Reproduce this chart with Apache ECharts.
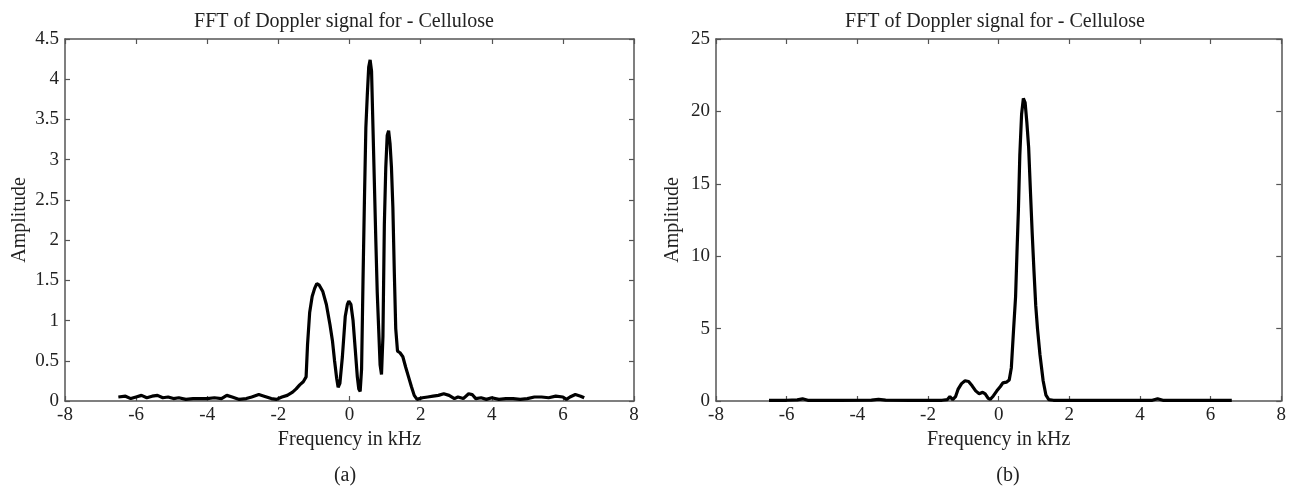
<!DOCTYPE html>
<html>
<head>
<meta charset="utf-8">
<script src="https://cdn.jsdelivr.net/npm/echarts@6/dist/echarts.min.js"></script>
<style>
  html, body { margin: 0; padding: 0; background: #fff; }
  #chart { width: 1289px; height: 488px; }
</style>
</head>
<body>
<div id="chart"></div>
<script>
// (a) amplitude spectrum
const freqA = [-6.5, -6.3, -6.15, -6.0, -5.85, -5.7, -5.55, -5.4, -5.25, -5.1, -4.95, -4.8, -4.6, -4.4, -4.2, -4.0,
  -3.8, -3.6, -3.45, -3.3, -3.1, -2.9, -2.75, -2.55, -2.4, -2.2, -2.05, -1.9, -1.75, -1.6, -1.5, -1.4, -1.3,
  -1.22, -1.18, -1.12, -1.05, -0.98, -0.92, -0.85, -0.75, -0.65, -0.55, -0.48, -0.42, -0.36, -0.32, -0.27,
  -0.2, -0.12, -0.06, -0.02, 0.04, 0.1, 0.16, 0.22, 0.26, 0.3, 0.34, 0.38, 0.42, 0.46, 0.5, 0.54, 0.58, 0.62,
  0.66, 0.7, 0.74, 0.78, 0.82, 0.86, 0.9, 0.94, 0.98, 1.02, 1.06, 1.1, 1.14, 1.18, 1.22, 1.26, 1.3, 1.35,
  1.42, 1.5, 1.58, 1.66, 1.74, 1.82, 1.9, 2.05, 2.2, 2.35, 2.5, 2.65, 2.8, 2.95, 3.05, 3.2, 3.35, 3.45, 3.55,
  3.7, 3.85, 4.0, 4.2, 4.4, 4.6, 4.8, 5.0, 5.2, 5.4, 5.6, 5.8, 6.0, 6.1, 6.2, 6.35, 6.5, 6.6];
const ampA = [0.05, 0.06, 0.03, 0.05, 0.07, 0.04, 0.06, 0.07, 0.04, 0.05, 0.03, 0.04, 0.02, 0.03, 0.03, 0.03,
  0.04, 0.03, 0.07, 0.05, 0.02, 0.03, 0.05, 0.08, 0.06, 0.03, 0.02, 0.05, 0.07, 0.11, 0.15, 0.2, 0.24,
  0.3, 0.7, 1.1, 1.3, 1.4, 1.46, 1.44, 1.36, 1.2, 0.95, 0.75, 0.5, 0.28, 0.17, 0.22,
  0.55, 1.05, 1.2, 1.24, 1.2, 1.0, 0.65, 0.3, 0.15, 0.12, 0.4, 1.5, 2.5, 3.4, 3.8, 4.15, 4.24, 4.1,
  3.4, 2.7, 2.0, 1.35, 0.9, 0.45, 0.33, 0.8, 2.2, 2.9, 3.3, 3.36, 3.2, 2.9, 2.4, 1.6, 0.9, 0.62,
  0.6, 0.55, 0.42, 0.3, 0.18, 0.07, 0.02, 0.04, 0.05, 0.06, 0.07, 0.09, 0.07, 0.03, 0.05, 0.03, 0.09, 0.08, 0.03,
  0.04, 0.02, 0.04, 0.02, 0.03, 0.03, 0.02, 0.03, 0.05, 0.05, 0.04, 0.06, 0.05, 0.02, 0.05, 0.08, 0.06, 0.04];

// (b) amplitude spectrum
const freqB = [-6.5, -6.0, -5.7, -5.55, -5.4, -4.5, -3.6, -3.4, -3.2, -2.5, -1.6, -1.45, -1.38, -1.3, -1.22,
  -1.15, -1.05, -0.95, -0.85, -0.75, -0.65, -0.55, -0.45, -0.38, -0.3, -0.24, -0.15, -0.05, 0.05, 0.12, 0.22,
  0.3, 0.36, 0.42, 0.48, 0.52, 0.56, 0.6, 0.65, 0.7, 0.75, 0.8, 0.85, 0.9, 0.95, 1.0, 1.05, 1.1, 1.17, 1.26,
  1.34, 1.42, 1.55, 2.5, 3.5, 4.35, 4.5, 4.65, 5.5, 6.6];
const ampB = [0.05, 0.05, 0.08, 0.15, 0.05, 0.05, 0.06, 0.12, 0.06, 0.05, 0.05, 0.1, 0.3, 0.1, 0.3,
  0.8, 1.2, 1.4, 1.35, 1.05, 0.7, 0.5, 0.6, 0.5, 0.2, 0.1, 0.35, 0.7, 1.0, 1.25, 1.3,
  1.45, 2.3, 4.8, 7.2, 10.3, 13.2, 17.0, 19.8, 20.9, 20.6, 19.2, 17.5, 14.5, 11.6, 9.0, 6.6, 5.0, 3.2, 1.4,
  0.4, 0.1, 0.05, 0.05, 0.05, 0.05, 0.15, 0.05, 0.05, 0.05];

const titleText = 'FFT of Doppler signal for - Cellulose';
const xName = 'Frequency in kHz';
const yName = 'Amplitude';

const serif = "'Liberation Serif', 'Times New Roman', serif";
const frameColor = '#555';
const textColor = '#222';

const pairs = (xs, ys) => xs.map((x, i) => [x, ys[i]]);

const frameLine = { show: true, onZero: false, lineStyle: { color: frameColor, width: 1.5 } };
const innerTick = { show: true, inside: true, length: 5, lineStyle: { color: frameColor, width: 1.2 } };

const bottomX = (gridIndex, nameGap) => ({
  type: 'value', gridIndex, position: 'bottom', min: -8, max: 8, interval: 2,
  axisLine: frameLine, axisTick: innerTick, splitLine: { show: false },
  axisLabel: { color: textColor, fontSize: 19, fontFamily: serif, margin: 5 },
  name: xName, nameLocation: 'middle', nameGap,
  nameTextStyle: { color: textColor, fontSize: 20, fontFamily: serif }
});
const topX = (gridIndex) => ({
  type: 'value', gridIndex, position: 'top', min: -8, max: 8, interval: 2,
  axisLine: frameLine, axisTick: innerTick, axisLabel: { show: false }, splitLine: { show: false }
});
const leftY = (gridIndex, max, interval, nameGap) => ({
  type: 'value', gridIndex, position: 'left', min: 0, max, interval,
  axisLine: frameLine, axisTick: innerTick, splitLine: { show: false },
  axisLabel: { color: textColor, fontSize: 19, fontFamily: serif, margin: 6 },
  name: yName, nameLocation: 'middle', nameGap,
  nameTextStyle: { color: textColor, fontSize: 20, fontFamily: serif }
});
const rightY = (gridIndex, max, interval) => ({
  type: 'value', gridIndex, position: 'right', min: 0, max, interval,
  axisLine: frameLine, axisTick: innerTick, axisLabel: { show: false }, splitLine: { show: false }
});

const label = (text, x, y) => ({
  type: 'text', x, y,
  style: { text, fontSize: 20, fontFamily: serif, fill: textColor, align: 'center', verticalAlign: 'middle' }
});

const chart = echarts.init(document.getElementById('chart'));
chart.setOption({
  animation: false,
  backgroundColor: '#fff',
  grid: [
    { left: 65, right: 655, top: 39, bottom: 87 },
    { left: 716, right: 6, top: 39, bottom: 87 }
  ],
  xAxis: [bottomX(0, 17), topX(0), bottomX(1, 17), topX(1)],
  yAxis: [leftY(0, 4.5, 0.5, 35), rightY(0, 4.5, 0.5), leftY(1, 25, 5, 33), rightY(1, 25, 5)],
  graphic: [
    label(titleText, 344, 22),
    label(titleText, 995, 22),
    label('(a)', 345, 476),
    label('(b)', 1008, 476)
  ],
  series: [
    {
      type: 'line', xAxisIndex: 0, yAxisIndex: 0, data: pairs(freqA, ampA),
      showSymbol: false, lineStyle: { color: '#000', width: 3.2 }
    },
    {
      type: 'line', xAxisIndex: 2, yAxisIndex: 2, data: pairs(freqB, ampB),
      showSymbol: false, lineStyle: { color: '#000', width: 3.2 }
    }
  ]
});
</script>
</body>
</html>
